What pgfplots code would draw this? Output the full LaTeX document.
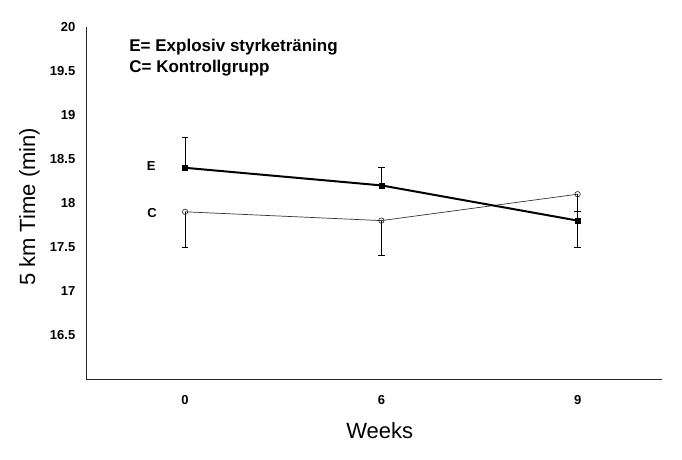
\documentclass[border=0pt]{standalone}
\usepackage{pgfplots}
\pgfplotsset{compat=1.18}
\usepackage{fontspec}
\setmainfont{Liberation Sans}
\begin{document}
\begin{tikzpicture}
\useasboundingbox (0pt,0pt) rectangle (682pt,460pt);
\begin{axis}[
  at={(86pt,81pt)}, anchor=south west,
  scale only axis, width=576pt, height=352pt,
  xmin=-0.505, xmax=2.43, ymin=16, ymax=20,
  axis lines=left,
  axis line style={-, line width=0.8pt, black!85},
  xtick={0,1,2}, xticklabels={0,6,9},
  ytick={16.5,17,17.5,18,18.5,19,19.5,20},
  yticklabels={16.5,17,17.5,18,18.5,19,19.5,20},
  major tick length=0pt,
  tick label style={font=\fontsize{13}{15}\selectfont\bfseries},
  yticklabel style={anchor=east, inner sep=0pt, xshift=-10.5pt},
  xticklabel style={anchor=base, inner sep=0pt, yshift=-26pt},
  xlabel={Weeks}, ylabel={5 km Time (min)},
  every axis x label/.style={at={(axis description cs:0.51,-0.170)}, anchor=base, inner sep=0pt, font=\fontsize{22}{26}\selectfont},
  every axis y label/.style={at={(axis description cs:-0.0885,0.489)}, rotate=90, anchor=base, inner sep=0pt, font=\fontsize{22}{26}\selectfont},
  clip=false,
]
\addplot[black!80, line width=0.7pt, mark=o, mark size=2.7pt, mark options={fill=white, solid, line width=0.7pt},
  error bars/.cd, y dir=minus, y explicit, error mark=-,
  error bar style={line width=0.7pt, black},
  error mark options={rotate=90, line width=0.7pt, mark size=3.2pt, black}]
  coordinates {(0,17.9) -= (0,0.4) (1,17.8) -= (0,0.4) (2,18.1) -= (0,0.6)};
\addplot[black, line width=2pt, mark=square*, mark size=2.5pt, mark options={solid, line width=0.4pt},
  error bars/.cd, y dir=plus, y explicit, error mark=-,
  error bar style={line width=0.7pt, black},
  error mark options={rotate=90, line width=0.7pt, mark size=3.2pt, black}]
  coordinates {(0,18.4) += (0,0.35) (1,18.2) += (0,0.2) (2,17.8) += (0,0.1)};
\node[font=\fontsize{13}{15}\selectfont\bfseries, anchor=center] at (axis cs:-0.173,18.42) {E};
\node[font=\fontsize{13}{15}\selectfont\bfseries, anchor=center] at (axis cs:-0.168,17.89) {C};
\node[font=\fontsize{17}{20}\selectfont\bfseries, anchor=base west, inner sep=0pt] at (axis description cs:0.075,0.930) {E= Explosiv styrketräning};
\node[font=\fontsize{17}{20}\selectfont\bfseries, anchor=base west, inner sep=0pt] at (axis description cs:0.075,0.871) {C= Kontrollgrupp};
\end{axis}
\end{tikzpicture}
\end{document}
